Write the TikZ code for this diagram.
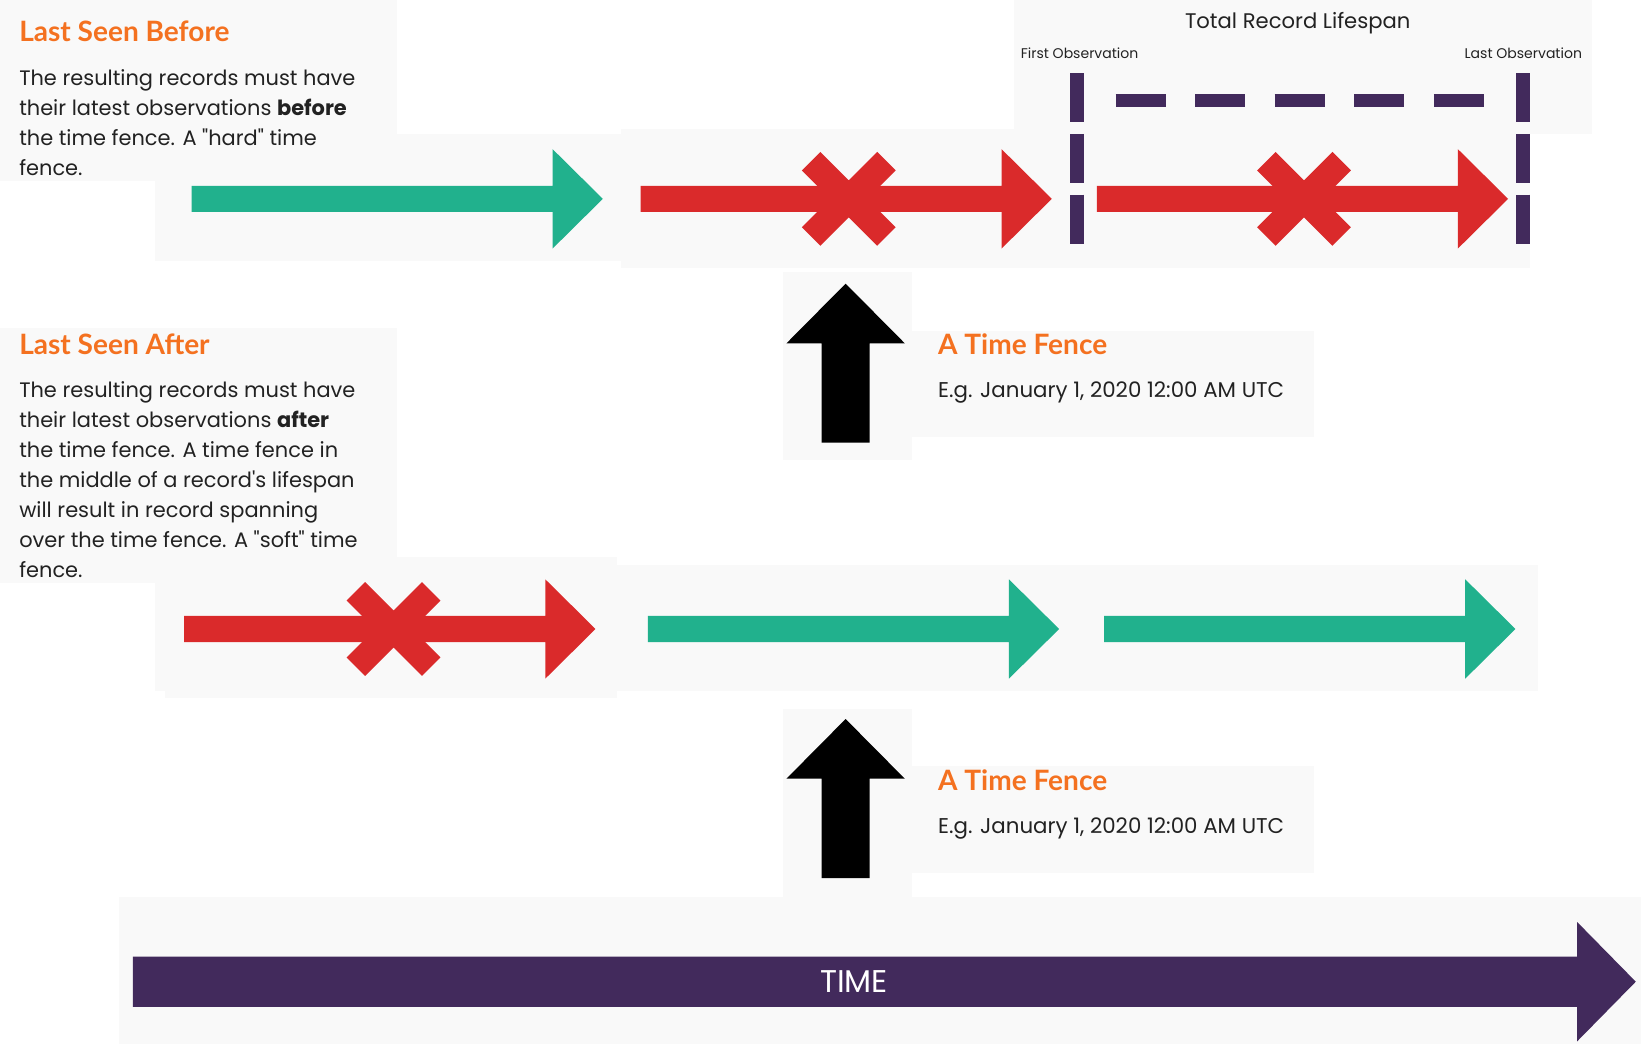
\documentclass[tikz,border=0pt]{standalone}
\usepackage{fontspec}
\usepackage{tikz}
\newfontfamily\bodyfont{Poppins}
\newfontfamily\headfont{Lato}

\definecolor{FenceOrange}{HTML}{F47120}
\definecolor{KeepGreen}{HTML}{21B18D}
\definecolor{DropRed}{HTML}{DA2A2B}
\definecolor{SpanPurple}{HTML}{422A5C}
\definecolor{PanelGray}{HTML}{F9F9F9}
\definecolor{BodyText}{HTML}{222222}

\begin{document}
\begin{tikzpicture}[x=0.5pt, y=-0.5pt,
    panel/.style={fill=PanelGray},
    heading/.style={anchor=base west, inner sep=0pt, text=FenceOrange, font=\headfont\bfseries\fontsize{13.4}{16}\selectfont},
    body/.style={anchor=north west, inner sep=0pt, align=left, text=BodyText, font=\bodyfont\fontsize{10}{14.35}\selectfont},
    note/.style={anchor=base west, inner sep=0pt, text=BodyText, font=\bodyfont\fontsize{10.2}{12}\selectfont},
    small/.style={inner sep=0pt, text=BodyText, font=\bodyfont\fontsize{6.7}{8}\selectfont},
    pics/rowarrow/.style={code={
        \fill (0,-12.5) -- (345,-12.5) -- (345,-47.5) -- (393,0) -- (345,47.5) -- (345,12.5) -- (0,12.5) -- cycle;}},
    pics/fencearrow/.style={code={
        \fill (0,0) -- (56.5,57) -- (23,57) -- (23,152) -- (-23,152) -- (-23,57) -- (-56.5,57) -- cycle;}},
    pics/dropmark/.style={code={
        \draw[line width=12.5pt] (-36,-36) -- (36,36) (-36,36) -- (36,-36);}}]
    \useasboundingbox (0,0) rectangle (1568,998);

    % light panels behind each part
    \fill[panel] (0,0) rectangle (379,173);
    \fill[panel] (148,128) rectangle (593,249);
    \fill[panel] (593,123) rectangle (1025,256);
    \fill[panel] (969,0) rectangle (1521,128);
    \fill[panel] (1025,128) rectangle (1462,256);
    \fill[panel] (748,260) rectangle (871,440);
    \fill[panel] (871,316) rectangle (1256,418);
    \fill[panel] (0,313) rectangle (379,557);
    \fill[panel] (148,532) rectangle (590,660);
    \fill[panel] (158,660) rectangle (590,667);
    \fill[panel] (590,540) rectangle (1470,660);
    \fill[panel] (748,677) rectangle (871,857);
    \fill[panel] (871,732) rectangle (1256,834);
    \fill[panel] (114,857) rectangle (1568,998);

    % last seen before
    \node[heading] (beforehead) at (18,40) {Last Seen Before};
    \node[body] (beforetext) at (18,66) {The resulting records must have\\
        their latest observations \textbf{before}\\
        the time fence. A "hard" time\\
        fence.};

    \pic[KeepGreen] at (183,190) {rowarrow};
    \pic[DropRed] at (612,190) {rowarrow};
    \pic[DropRed] at (811,190) {dropmark};
    \pic[DropRed] at (1048,190) {rowarrow};
    \pic[DropRed] at (1246,190) {dropmark};

    % record lifespan
    \node[inner sep=0pt, text=BodyText, font=\bodyfont\fontsize{10.1}{12}\selectfont] (spantitle) at (1240,22) {Total Record Lifespan};
    \node[small, anchor=west] (firstobs) at (975,51) {First Observation};
    \node[small, anchor=east] (lastobs) at (1512,51) {Last Observation};
    \coordinate (firsttop) at (1029,70);
    \coordinate (firstbot) at (1029,234);
    \coordinate (lasttop) at (1455,70);
    \coordinate (lastbot) at (1455,234);
    \draw[SpanPurple, line width=6.5pt, dash pattern=on 23.5pt off 5.5pt] (firsttop) -- (firstbot);
    \draw[SpanPurple, line width=6.5pt, dash pattern=on 23.5pt off 5.5pt] (lasttop) -- (lastbot);
    \draw[SpanPurple, line width=6.5pt, dash pattern=on 24pt off 14pt] (1066,96) -- (1418,96);

    % first time fence
    \pic[black] at (808,271) {fencearrow};
    \node[heading] (fenceahead) at (896,339) {A Time Fence};
    \node[note] (fenceadate) at (896,380) {E.g. January 1, 2020 12:00 AM UTC};

    % last seen after
    \node[heading] (afterhead) at (18,339) {Last Seen After};
    \node[body] (aftertext) at (18,364) {The resulting records must have\\
        their latest observations \textbf{after}\\
        the time fence. A time fence in\\
        the middle of a record's lifespan\\
        will result in record spanning\\
        over the time fence. A "soft" time\\
        fence.};

    \pic[DropRed] at (176,601) {rowarrow};
    \pic[DropRed] at (376,601) {dropmark};
    \pic[KeepGreen] at (619,601) {rowarrow};
    \pic[KeepGreen] at (1055,601) {rowarrow};

    % second time fence
    \pic[black] at (808,687) {fencearrow};
    \node[heading] (fencebhead) at (896,755) {A Time Fence};
    \node[note] (fencebdate) at (896,796) {E.g. January 1, 2020 12:00 AM UTC};

    % time axis
    \fill[SpanPurple] (127,914) -- (1507,914) -- (1507,881) -- (1563,938) -- (1507,995) -- (1507,962) -- (127,962) -- cycle;
    \node[text=white, font=\bodyfont\fontsize{15}{17}\selectfont] (timelabel) at (816,938) {TIME};
\end{tikzpicture}
\end{document}
